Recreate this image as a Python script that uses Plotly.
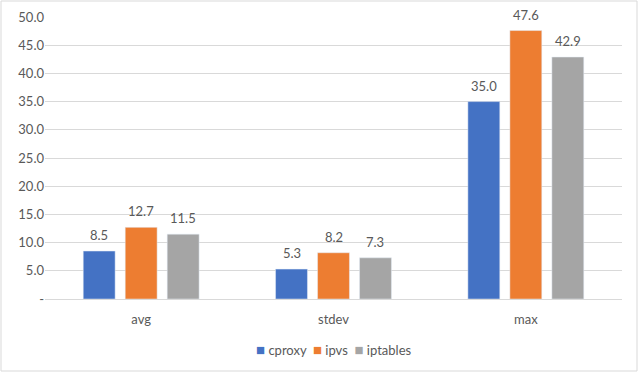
import plotly.graph_objects as go

categories = ["avg", "stdev", "max"]
cproxy = [8.5, 5.3, 35.0]
ipvs = [12.7, 8.2, 47.6]
iptables = [11.5, 7.3, 42.9]
tick_vals = [0, 5, 10, 15, 20, 25, 30, 35, 40, 45, 50]
tick_text = ["-", "5.0", "10.0", "15.0", "20.0", "25.0", "30.0", "35.0", "40.0", "45.0", "50.0"]

series = [("cproxy", cproxy, "#4472C4"), ("ipvs", ipvs, "#ED7D31"), ("iptables", iptables, "#A5A5A5")]

L, R, T, B = 45, 18, 17, 74
W, H = 640, 373
pw, ph = W - L - R, H - T - B
slot = pw / 3 * (1 - 0.345) / 3
FONT = "Lato, 'Noto Sans', sans-serif"
GREY = "#595959"

fig = go.Figure()
annotations = []
for i, (name, vals, col) in enumerate(series):
    fig.add_trace(go.Bar(x=categories, y=vals, name=name, marker_color=col, showlegend=False))
    for c, v in zip(categories, vals):
        annotations.append(dict(x=c, y=v, xref="x", yref="y", text=f"{v:.1f}", showarrow=False,
                                yanchor="bottom", xshift=(i - 1) * slot, yshift=6,
                                font=dict(size=13, color=GREY, family=FONT)))

legend_html = "  ".join(
    f"<span style='color:{col};font-size:15px'>■</span> {name}" for name, _, col in series
)
annotations.append(dict(x=0.5, y=(H - B - 349) / ph, xref="paper", yref="paper",
                        text=legend_html, showarrow=False, xanchor="center", yanchor="middle",
                        font=dict(size=13, color=GREY, family=FONT)))

fig.update_layout(
    width=W, height=H,
    margin=dict(l=L, r=R, t=T, b=B, autoexpand=False),
    paper_bgcolor="white", plot_bgcolor="white",
    font=dict(family=FONT, size=13, color=GREY),
    barmode="group", bargap=0.345, bargroupgap=0.24,
    showlegend=False,
    xaxis=dict(showline=True, linecolor="#D9D9D9", linewidth=1, ticks="",
               tickfont=dict(size=13, color=GREY), fixedrange=True, automargin=False,
               ticklabelstandoff=8),
    yaxis=dict(range=[0, 50], tickvals=tick_vals, ticktext=tick_text,
               showgrid=True, gridcolor="#D9D9D9", gridwidth=1, zeroline=False,
               tickfont=dict(size=13, color=GREY), ticks="", ticklen=0, fixedrange=True,
               automargin=False),
    annotations=annotations,
    shapes=[dict(type="rect", xref="paper", yref="paper",
                 x0=(1 - L) / pw, x1=(W - 3 - L) / pw,
                 y0=(H - B - (H - 2)) / ph, y1=(H - B - 1) / ph,
                 line=dict(color="#D9D9D9", width=1), fillcolor="rgba(0,0,0,0)", layer="below")],
)

fig.write_html("out.html", config={"displayModeBar": False},
               post_script="document.body.style.margin='0';document.body.style.overflow='hidden';")
